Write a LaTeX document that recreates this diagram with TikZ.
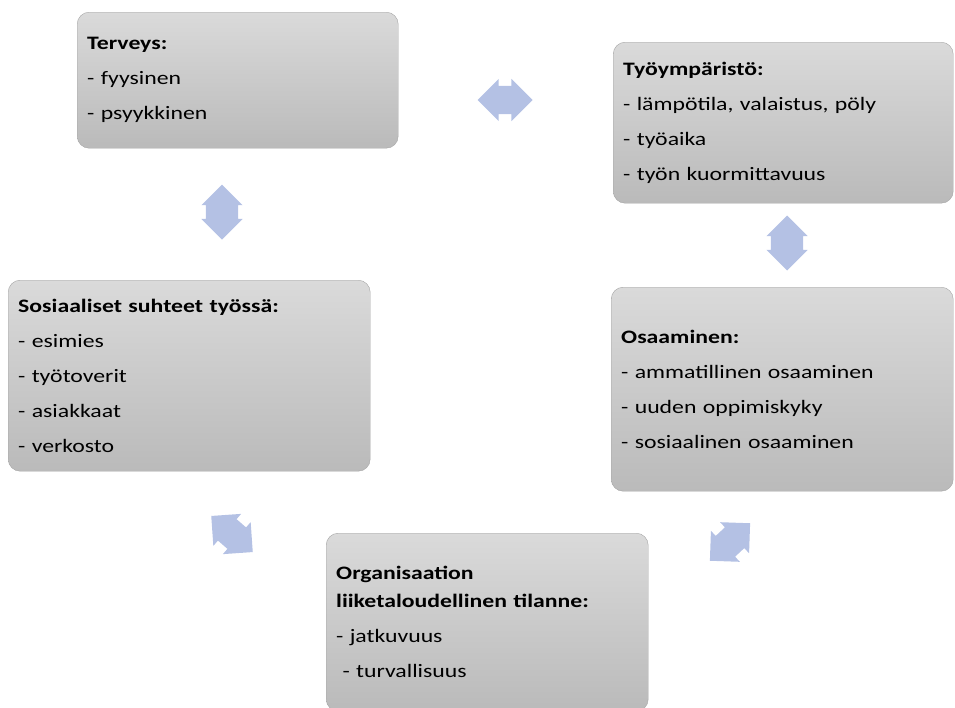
\documentclass[tikz,border=0pt]{standalone}
\usepackage{fontspec}
\setmainfont{Carlito}[FakeStretch=1.25]
\usetikzlibrary{shapes.arrows}
\definecolor{boxtop}{RGB}{218,218,218}
\definecolor{boxbot}{RGB}{186,186,186}
\definecolor{boxline}{RGB}{165,165,165}
\definecolor{arrowblue}{RGB}{180,193,228}
\tikzset{
  factor/.style={draw=boxline, top color=boxtop, bottom color=boxbot,
    rounded corners=12pt, anchor=north west, inner xsep=10pt, align=left,
    font=\fontsize{19}{35}\selectfont},
  link/.style={double arrow, fill=arrowblue, draw=none, minimum height=55pt,
    inner xsep=0pt, inner ysep=14pt, double arrow head extend=7pt}
}
\begin{document}
\begin{tikzpicture}[x=1pt,y=-1pt]
\useasboundingbox (0,0) rectangle (955,707);
% boxes
\node[factor, minimum width=321pt, minimum height=136pt, text width=301pt] (terveys) at (77,12)
  {\textbf{Terveys:}\\- fyysinen\\- psyykkinen};
\node[factor, minimum width=340pt, minimum height=161pt, text width=320pt] (ymparisto) at (613,42)
  {\textbf{Työympäristö:}\\- lämpötila, valaistus, pöly\\- työaika\\- työn kuormittavuus};
\node[factor, minimum width=362pt, minimum height=191pt, text width=342pt] (suhteet) at (8,280)
  {\textbf{Sosiaaliset suhteet työssä:}\\- esimies\\- työtoverit\\- asiakkaat\\- verkosto};
\node[factor, minimum width=342pt, minimum height=204pt, text width=322pt] (osaaminen) at (611,287)
  {\textbf{Osaaminen:}\\- ammatillinen osaaminen\\- uuden oppimiskyky\\- sosiaalinen osaaminen};
\node[factor, minimum width=322pt, minimum height=178pt, text width=302pt] (talous) at (326,533)
  {\textbf{Organisaation}\\[-7pt]\textbf{liiketaloudellinen tilanne:}\\- jatkuvuus\\\ - turvallisuus};
% arrows
\node[link] (a1) at (505,100) {};
\node[link, rotate=90, inner ysep=16pt, double arrow head extend=4.5pt] (a2) at (222,212) {};
\node[link, rotate=90, inner ysep=16pt, double arrow head extend=4.5pt] (a3) at (787,243) {};
\node[link, rotate=-41] (a4) at (232,534) {};
\node[link, rotate=43] (a5) at (730,542) {};
\end{tikzpicture}
\end{document}
